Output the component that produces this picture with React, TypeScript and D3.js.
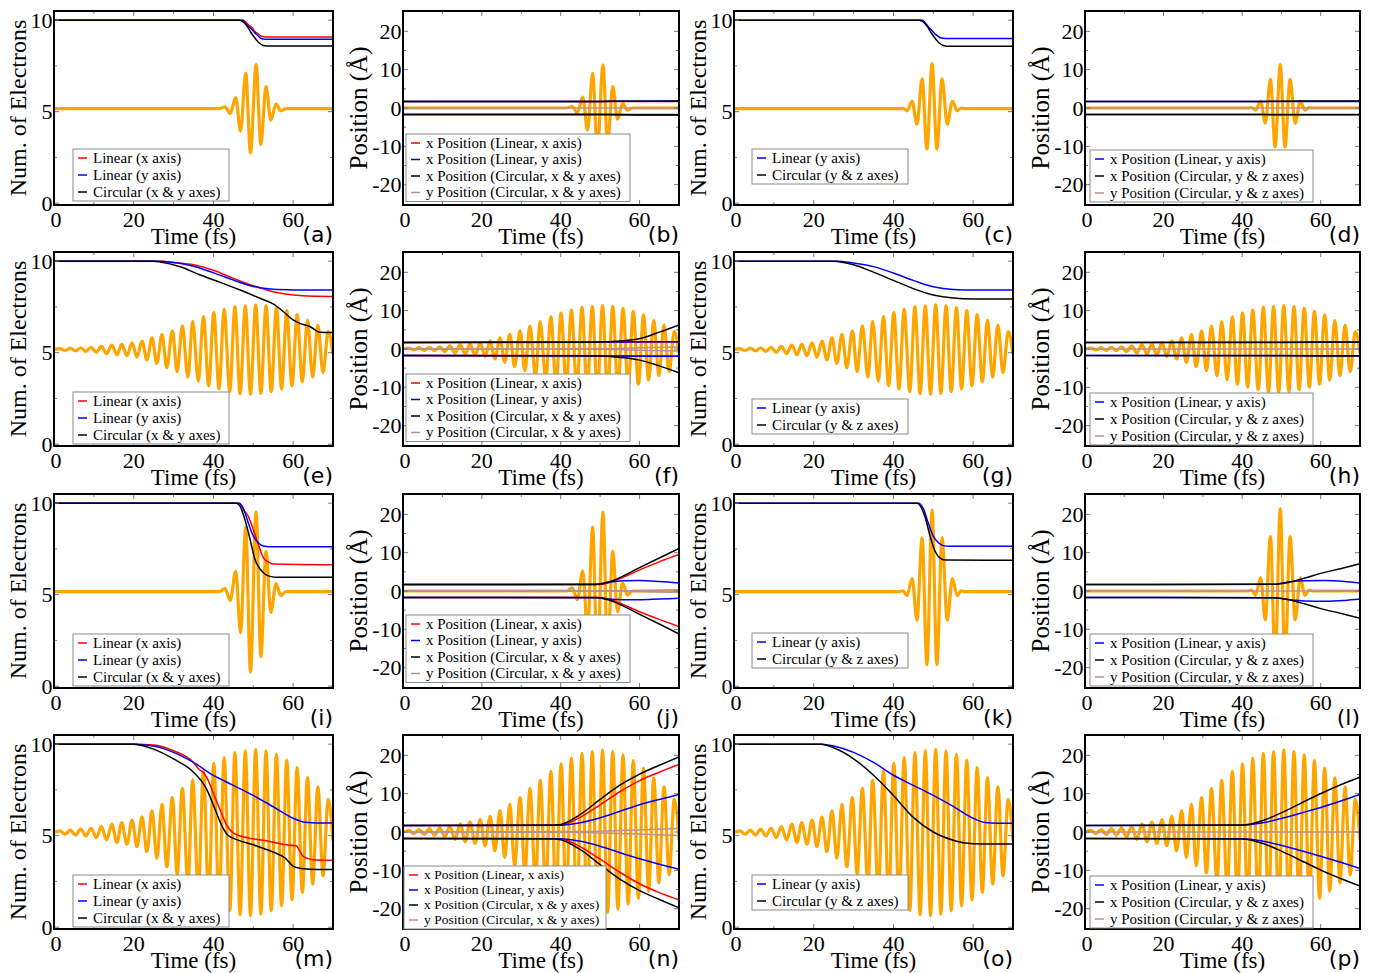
import React from 'react';
import * as d3 from 'd3';

type Pt = [number, number];

// axis ticks
const timeTicks = [0, 20, 40, 60];
const electronTicks = [0, 5, 10];
const positionTicks = [-20, -10, 0, 10, 20];

// laser field (extrema, normalised to peak 1)
const pulseShortA: Pt[] = [[0, 0], [41.5, 0], [42.9, 0.04], [44.2, -0.11], [45.6, 0.25], [46.8, -0.51], [48.1, 0.8], [49.3, -1.0], [50.7, 0.99], [51.9, -0.81], [53.2, 0.5], [54.4, -0.26], [55.7, 0.1], [56.9, -0.05], [58.2, 0], [70, 0]];
const pulseShortB: Pt[] = [[0, 0], [41.5, 0], [42.4, 0.01], [43.4, -0.05], [44.7, 0.16], [45.9, -0.35], [47.2, 0.66], [48.4, -0.9], [49.7, 1.0], [50.9, -0.9], [52.2, 0.66], [53.5, -0.35], [54.8, 0.16], [56.0, -0.05], [57.0, 0.01], [58, 0], [70, 0]];
const pulseLong: Pt[] = [[0, 0], [1.5, 0.02], [2.8, -0.02], [4.1, 0.03], [5.4, -0.03], [6.7, 0.04], [8.0, -0.04], [9.3, 0.05], [10.6, -0.06], [11.9, 0.07], [13.2, -0.09], [14.5, 0.1], [15.8, -0.12], [17.0, 0.12], [18.3, -0.14], [19.6, 0.15], [20.8, -0.17], [22.1, 0.19], [23.3, -0.23], [24.6, 0.26], [25.8, -0.31], [27.1, 0.34], [28.3, -0.41], [29.7, 0.42], [30.9, -0.5], [32.2, 0.53], [33.6, -0.62], [34.8, 0.63], [36.2, -0.71], [37.5, 0.74], [38.8, -0.81], [40.1, 0.83], [41.4, -0.88], [42.7, 0.9], [44.1, -0.94], [45.4, 0.96], [46.7, -0.99], [48.0, 0.98], [49.3, -1.0], [50.6, 1.0], [51.9, -0.98], [53.2, 0.98], [54.5, -0.94], [55.8, 0.94], [57.1, -0.88], [58.4, 0.87], [59.7, -0.81], [61.0, 0.78], [62.3, -0.72], [63.6, 0.66], [64.9, -0.62], [66.2, 0.55], [67.5, -0.52], [68.8, 0.4], [70.0, -0.1]];

// number of electrons
const aRed: Pt[] = [[0, 10], [47.5, 10], [48.3, 9.85], [49, 9.7], [49.7, 9.6], [50.4, 9.38], [51.2, 9.25], [52, 9.12], [53, 9.08], [70, 9.08]];
const aBlue: Pt[] = [[0, 10], [47.3, 10], [48, 9.85], [48.8, 9.65], [49.6, 9.5], [50.4, 9.3], [51.2, 9.15], [52, 9.0], [53, 8.96], [70, 8.95]];
const aBlack: Pt[] = [[0, 10], [46.5, 10], [47.5, 9.9], [48.5, 9.65], [49.5, 9.3], [50.5, 9.0], [51.5, 8.75], [52.5, 8.62], [54, 8.59], [70, 8.59]];
const cBlue: Pt[] = [[0, 10], [47.3, 10], [48, 9.85], [48.8, 9.62], [49.6, 9.45], [50.4, 9.25], [51.2, 9.12], [52, 9.02], [53, 9.0], [70, 9.0]];
const cBlack: Pt[] = [[0, 10], [46.5, 10], [47.5, 9.9], [48.5, 9.65], [49.5, 9.3], [50.5, 9.0], [51.5, 8.75], [52.5, 8.62], [54, 8.57], [70, 8.57]];
const eRed: Pt[] = [[0, 10], [27, 10], [30, 9.93], [35, 9.8], [40, 9.5], [45, 9.06], [50, 8.66], [55, 8.33], [60, 8.15], [65, 8.08], [70, 8.07]];
const eBlue: Pt[] = [[0, 10], [26, 10], [30, 9.92], [35, 9.72], [40, 9.36], [45, 8.97], [50, 8.62], [55, 8.46], [60, 8.43], [70, 8.42]];
const eBlack: Pt[] = [[0, 10], [25, 10], [26.7, 9.96], [31.7, 9.69], [36.7, 9.24], [41.7, 8.84], [46.7, 8.42], [51.7, 7.97], [55, 7.66], [57.5, 7.25], [60, 6.79], [61.7, 6.6], [64.2, 6.43], [66.7, 6.12], [70, 6.1]];
const gBlue: Pt[] = [[0, 10], [26, 10], [30, 9.9], [35, 9.7], [40, 9.35], [45, 8.95], [50, 8.6], [55, 8.45], [60, 8.42], [70, 8.42]];
const gBlack: Pt[] = [[0, 10], [25, 10], [30, 9.8], [35, 9.4], [40, 8.95], [45, 8.5], [50, 8.15], [55, 7.98], [60, 7.93], [70, 7.93]];
const iRed: Pt[] = [[0, 10], [46.5, 10], [47.5, 9.64], [48.75, 9.28], [50, 8.56], [51.25, 7.75], [52.5, 7.03], [53.75, 6.79], [55, 6.67], [70, 6.63]];
const iBlue: Pt[] = [[0, 10], [46.3, 10], [47.5, 9.73], [48.75, 8.92], [50, 8.2], [51.25, 7.84], [52.5, 7.66], [54, 7.62], [70, 7.62]];
const iBlack: Pt[] = [[0, 10], [45.8, 10], [46.7, 9.82], [47.9, 9.1], [49.2, 8.02], [50.4, 6.94], [51.7, 6.4], [52.9, 6.13], [54.2, 6.0], [56, 5.95], [70, 5.95]];
const kBlue: Pt[] = [[0, 10], [46.3, 10], [47.5, 9.7], [48.75, 8.9], [50, 8.2], [51.25, 7.85], [52.5, 7.68], [54, 7.64], [70, 7.64]];
const kBlack: Pt[] = [[0, 10], [46, 10], [47, 9.75], [48, 9.2], [49.2, 8.2], [50.4, 7.4], [51.7, 7.0], [53, 6.9], [70, 6.88]];
const mRed: Pt[] = [[0, 10], [20, 10], [25, 9.96], [30, 9.64], [35, 9.0], [36.5, 8.6], [37.5, 8.45], [38.5, 8.1], [40, 7.3], [41.7, 6.4], [43.3, 5.59], [45, 5.14], [48.3, 4.9], [53.3, 4.72], [58.3, 4.5], [60.8, 4.45], [61.7, 4.14], [62.5, 3.87], [65, 3.69], [70, 3.66]];
const mBlue: Pt[] = [[0, 10], [20, 10], [25, 9.9], [30, 9.55], [35, 9.0], [40, 8.29], [45, 7.75], [50, 7.2], [55, 6.58], [60, 5.95], [63, 5.73], [66, 5.69], [70, 5.69]];
const mBlack: Pt[] = [[0, 10], [20, 10], [25, 9.73], [30, 9.19], [35, 8.47], [38, 7.66], [40, 6.67], [42, 5.59], [43.5, 5.05], [46, 4.77], [50, 4.5], [55, 4.1], [58, 3.78], [60, 3.33], [62, 3.2], [66, 3.15], [70, 3.15]];
const oBlue: Pt[] = [[0, 10], [22, 10], [25, 9.9], [30, 9.55], [35, 9.0], [40, 8.3], [45, 7.75], [50, 7.2], [55, 6.6], [60, 5.95], [63, 5.72], [66, 5.68], [70, 5.68]];
const oBlack: Pt[] = [[0, 10], [22, 10], [25, 9.8], [30, 9.2], [35, 8.3], [40, 7.2], [45, 6.0], [50, 5.2], [55, 4.75], [58, 4.6], [62, 4.55], [70, 4.55]];

// positions (upper and lower atom)
const zeroLine: Pt[] = [[0, 0], [70, 0]];
const bRedUp: Pt[] = [[0, 1.7], [70, 1.72]];
const bRedLo: Pt[] = [[0, -1.7], [70, -1.72]];
const bBlueUp: Pt[] = [[0, 1.7], [50, 1.72], [60, 1.78], [70, 1.8]];
const bBlueLo: Pt[] = [[0, -1.7], [50, -1.72], [60, -1.82], [70, -1.85]];
const bBlackUp: Pt[] = [[0, 1.7], [50, 1.72], [60, 1.76], [70, 1.76]];
const bBlackLo: Pt[] = [[0, -1.7], [50, -1.72], [60, -1.75], [70, -1.74]];
const dBlueUp: Pt[] = [[0, 1.7], [70, 1.7]];
const dBlueLo: Pt[] = [[0, -1.7], [70, -1.7]];
const dBlackUp: Pt[] = [[0, 1.7], [45, 1.72], [55, 1.8], [70, 1.8]];
const dBlackLo: Pt[] = [[0, -1.7], [45, -1.72], [55, -1.78], [70, -1.78]];
const fRedUp: Pt[] = [[0, 1.7], [50, 1.75], [70, 1.85]];
const fRedLo: Pt[] = [[0, -1.7], [50, -1.75], [70, -1.85]];
const fBlueUp: Pt[] = [[0, 1.7], [50, 1.8], [60, 1.9], [70, 1.92]];
const fBlueLo: Pt[] = [[0, -1.7], [50, -1.8], [60, -1.9], [70, -1.92]];
const fBlackUp: Pt[] = [[0, 1.7], [45, 1.75], [50, 1.85], [55, 2.1], [60, 2.7], [65, 4.4], [70, 6.3]];
const fBlackLo: Pt[] = [[0, -1.7], [45, -1.75], [50, -1.85], [55, -2.2], [60, -2.9], [65, -4.4], [70, -6.2]];
const fRosyUp: Pt[] = [[0, 0], [50, 0.05], [60, 0.3], [70, 0.5]];
const fRosyLo: Pt[] = [[0, 0], [50, -0.05], [60, -0.3], [70, -0.5]];
const hBlueUp: Pt[] = [[0, 1.7], [50, 1.72], [70, 1.75]];
const hBlueLo: Pt[] = [[0, -1.7], [50, -1.72], [70, -1.75]];
const hBlackUp: Pt[] = [[0, 1.7], [50, 1.75], [70, 1.85]];
const hBlackLo: Pt[] = [[0, -1.7], [50, -1.75], [70, -1.85]];
const jRedUp: Pt[] = [[0, 1.7], [50, 1.72], [52, 2.1], [55, 3.2], [60, 5.5], [65, 7.6], [70, 9.5]];
const jRedLo: Pt[] = [[0, -1.7], [50, -1.72], [52, -2.1], [55, -3.2], [60, -5.4], [65, -7.4], [70, -9.3]];
const jBlueUp: Pt[] = [[0, 1.7], [49, 1.75], [52, 2.3], [56, 2.7], [60, 2.75], [65, 2.5], [70, 2.1]];
const jBlueLo: Pt[] = [[0, -1.7], [49, -1.75], [52, -2.1], [56, -2.3], [60, -2.3], [65, -2.1], [70, -1.9]];
const jBlackUp: Pt[] = [[0, 1.7], [49, 1.72], [51, 2.0], [53, 2.6], [55, 3.5], [60, 6.1], [65, 8.6], [70, 11.1]];
const jBlackLo: Pt[] = [[0, -1.7], [49, -1.72], [51, -2.0], [53, -2.6], [55, -3.5], [60, -6.1], [65, -8.6], [70, -11.2]];
const jRosyUp: Pt[] = [[0, 0], [55, 0.05], [70, 0.35]];
const jRosyLo: Pt[] = [[0, 0], [55, -0.05], [70, -0.35]];
const lBlueUp: Pt[] = [[0, 1.7], [48, 1.75], [52, 2.4], [56, 2.7], [61, 2.75], [66, 2.5], [70, 2.1]];
const lBlueLo: Pt[] = [[0, -1.7], [48, -1.75], [52, -2.3], [56, -2.6], [61, -2.65], [66, -2.45], [70, -2.1]];
const lBlackUp: Pt[] = [[0, 1.7], [48, 1.75], [52, 2.3], [56, 3.4], [60, 4.6], [65, 5.8], [70, 7.1]];
const lBlackLo: Pt[] = [[0, -1.7], [48, -1.75], [52, -2.3], [56, -3.4], [60, -4.6], [65, -5.8], [70, -7.1]];
const nRedUp: Pt[] = [[0, 1.7], [40, 1.8], [45, 3.9], [50, 7.1], [55, 10.5], [60, 13.4], [65, 15.6], [70, 17.6]];
const nRedLo: Pt[] = [[0, -1.7], [40, -1.8], [45, -3.9], [50, -7.1], [55, -10.5], [60, -13.5], [65, -15.8], [70, -17.7]];
const nBlueUp: Pt[] = [[0, 1.7], [40, 1.75], [45, 2.4], [50, 3.7], [55, 5.4], [60, 7.1], [65, 8.5], [70, 9.8]];
const nBlueLo: Pt[] = [[0, -1.7], [40, -1.75], [45, -2.4], [50, -3.7], [55, -5.4], [60, -7.0], [65, -8.4], [70, -9.7]];
const nBlackUp: Pt[] = [[0, 1.7], [38, 1.75], [40, 1.96], [45, 4.6], [50, 8.5], [55, 12.2], [60, 15.1], [65, 17.4], [70, 19.6]];
const nBlackLo: Pt[] = [[0, -1.7], [38, -1.75], [40, -2.0], [45, -4.6], [50, -8.5], [55, -12.3], [60, -15.3], [65, -17.6], [70, -19.8]];
const nRosyUp: Pt[] = [[0, 0], [45, 0.1], [55, 0.4], [70, 0.9]];
const nRosyLo: Pt[] = [[0, 0], [45, -0.1], [55, -0.4], [70, -0.9]];
const pBlueUp: Pt[] = [[0, 1.7], [40, 1.75], [45.3, 2.4], [50.4, 3.66], [55.5, 5.1], [60.6, 6.6], [65.7, 8.3], [70, 9.8]];
const pBlueLo: Pt[] = [[0, -1.7], [40, -1.75], [45.3, -2.4], [50.4, -3.6], [55.5, -5.0], [60.6, -6.5], [65.7, -8.1], [70, -9.5]];
const pBlackUp: Pt[] = [[0, 1.7], [40, 1.8], [45.3, 3.0], [50.4, 5.2], [55.5, 7.8], [60.6, 10.3], [65.7, 12.6], [70, 14.3]];
const pBlackLo: Pt[] = [[0, -1.7], [40, -1.8], [45.3, -3.0], [50.4, -5.2], [55.5, -7.7], [60.6, -10.2], [65.7, -12.4], [70, -14.1]];

const RED = '#ff0000';
const BLUE = '#0000ff';
const BLACK = '#000000';
const ROSY = '#bc8f8f';
const ORANGE = '#ffa500';

const legendCol0 = [
  { label: 'Linear (x axis)', color: RED },
  { label: 'Linear (y axis)', color: BLUE },
  { label: 'Circular (x & y axes)', color: BLACK },
];
const legendCol1 = [
  { label: 'x Position (Linear, x axis)', color: RED },
  { label: 'x Position (Linear, y axis)', color: BLUE },
  { label: 'x Position (Circular, x & y axes)', color: BLACK },
  { label: 'y Position (Circular, x & y axes)', color: ROSY },
];
const legendCol2 = [
  { label: 'Linear (y axis)', color: BLUE },
  { label: 'Circular (y & z axes)', color: BLACK },
];
const legendCol3 = [
  { label: 'x Position (Linear, y axis)', color: BLUE },
  { label: 'x Position (Circular, y & z axes)', color: BLACK },
  { label: 'y Position (Circular, y & z axes)', color: ROSY },
];

const COLS = [{ x: 54, w: 279 }, { x: 403, w: 276 }, { x: 734, w: 279 }, { x: 1085, w: 275 }];
const ROWS = [11, 252, 494, 735];
const PH = 194;
const LEG = [
  { dx: 19, w: 156, gap: 17, font: 15, entries: legendCol0 },
  { dx: 3, w: 224, gap: 16.5, font: 15, entries: legendCol1 },
  { dx: 18, w: 156, gap: 17, font: 15, entries: legendCol2 },
  { dx: 5, w: 223, gap: 17, font: 15, entries: legendCol3 },
];

type Series = { color: string; data: Pt[] };
type PanelDef = {
  id: string; row: number; col: number; pulse: Pt[]; base: number; scale: number;
  series: Series[]; legendY: number; legend?: { dx: number; w: number; gap: number; font: number };
};

const el = (s: [string, Pt[]][]) => s.map(([color, data]) => ({ color, data }));

const panels: PanelDef[] = [
  { id: 'a', row: 0, col: 0, pulse: pulseShortA, base: 5.17, scale: 2.42, legendY: 158, series: el([[RED, aRed], [BLUE, aBlue], [BLACK, aBlack]]) },
  { id: 'b', row: 0, col: 1, pulse: pulseShortA, base: 0, scale: 11.3, legendY: 143, series: el([[ROSY, zeroLine], [RED, bRedUp], [RED, bRedLo], [BLUE, bBlueUp], [BLUE, bBlueLo], [BLACK, bBlackUp], [BLACK, bBlackLo]]) },
  { id: 'c', row: 0, col: 2, pulse: pulseShortB, base: 5.17, scale: 2.45, legendY: 158, series: el([[BLUE, cBlue], [BLACK, cBlack]]) },
  { id: 'd', row: 0, col: 3, pulse: pulseShortB, base: 0, scale: 11.3, legendY: 159, series: el([[ROSY, zeroLine], [BLUE, dBlueUp], [BLUE, dBlueLo], [BLACK, dBlackUp], [BLACK, dBlackLo]]) },
  { id: 'e', row: 1, col: 0, pulse: pulseLong, base: 5.17, scale: 2.44, legendY: 401, series: el([[RED, eRed], [BLUE, eBlue], [BLACK, eBlack]]) },
  { id: 'f', row: 1, col: 1, pulse: pulseLong, base: 0, scale: 11.3, legendY: 383, series: el([[ROSY, fRosyUp], [ROSY, fRosyLo], [RED, fRedUp], [RED, fRedLo], [BLUE, fBlueUp], [BLUE, fBlueLo], [BLACK, fBlackUp], [BLACK, fBlackLo]]) },
  { id: 'g', row: 1, col: 2, pulse: pulseLong, base: 5.17, scale: 2.44, legendY: 408, series: el([[BLUE, gBlue], [BLACK, gBlack]]) },
  { id: 'h', row: 1, col: 3, pulse: pulseLong, base: 0, scale: 11.3, legendY: 402, series: el([[ROSY, zeroLine], [BLUE, hBlueUp], [BLUE, hBlueLo], [BLACK, hBlackUp], [BLACK, hBlackLo]]) },
  { id: 'i', row: 2, col: 0, pulse: pulseShortA, base: 5.17, scale: 4.4, legendY: 643, series: el([[RED, iRed], [BLUE, iBlue], [BLACK, iBlack]]) },
  { id: 'j', row: 2, col: 1, pulse: pulseShortA, base: 0, scale: 20.8, legendY: 624, series: el([[ROSY, jRosyUp], [ROSY, jRosyLo], [RED, jRedUp], [RED, jRedLo], [BLUE, jBlueUp], [BLUE, jBlueLo], [BLACK, jBlackUp], [BLACK, jBlackLo]]) },
  { id: 'k', row: 2, col: 2, pulse: pulseShortB, base: 5.17, scale: 4.45, legendY: 642, series: el([[BLUE, kBlue], [BLACK, kBlack]]) },
  { id: 'l', row: 2, col: 3, pulse: pulseShortB, base: 0, scale: 21.5, legendY: 643, series: el([[ROSY, zeroLine], [BLUE, lBlueUp], [BLUE, lBlueLo], [BLACK, lBlackUp], [BLACK, lBlackLo]]) },
  { id: 'm', row: 3, col: 0, pulse: pulseLong, base: 5.17, scale: 4.55, legendY: 884, series: el([[RED, mRed], [BLUE, mBlue], [BLACK, mBlack]]) },
  { id: 'n', row: 3, col: 1, pulse: pulseLong, base: 0, scale: 21.4, legendY: 875, legend: { dx: 1, w: 202, gap: 15, font: 13.5 }, series: el([[ROSY, nRosyUp], [ROSY, nRosyLo], [RED, nRedUp], [RED, nRedLo], [BLUE, nBlueUp], [BLUE, nBlueLo], [BLACK, nBlackUp], [BLACK, nBlackLo]]) },
  { id: 'o', row: 3, col: 2, pulse: pulseLong, base: 5.17, scale: 4.55, legendY: 884, series: el([[BLUE, oBlue], [BLACK, oBlack]]) },
  { id: 'p', row: 3, col: 3, pulse: pulseLong, base: 0, scale: 21.4, legendY: 885, series: el([[ROSY, zeroLine], [BLUE, pBlueUp], [BLUE, pBlueLo], [BLACK, pBlackUp], [BLACK, pBlackLo]]) },
];

const SERIF = '"Liberation Serif", "Times New Roman", serif';
const SANS = '"DejaVu Sans", sans-serif';

function Panel({ p }: { p: PanelDef }) {
  const { x: left, w } = COLS[p.col];
  const top = ROWS[p.row];
  const bottom = top + PH;
  const isPos = p.col % 2 === 1;
  const x = d3.scaleLinear().domain([0, 70]).range([left, left + w]);
  const y = isPos
    ? d3.scaleLinear().domain([-25.3, 25.3]).range([bottom, top])
    : d3.scaleLinear().domain([-0.1, 10.5]).range([bottom, top]);
  const line = d3.line<Pt>().x(d => x(d[0])).y(d => y(d[1])).curve(d3.curveMonotoneX);
  const pulse = p.pulse.map(([t, v]) => [t, p.base + p.scale * v] as Pt);
  const yTicks = isPos ? positionTicks : electronTicks;
  const yMinor = isPos ? [-15, -5, 5, 15] : [2.5, 7.5];
  const xMinor = [10, 30, 50, 70];
  const leg = { ...LEG[p.col], ...(p.legend || {}) };
  const entries = LEG[p.col].entries;
  const boxX = left + leg.dx;
  const boxY = p.legendY - 9;
  const boxH = leg.gap * (entries.length - 1) + 18;
  const clipId = `clip-${p.id}`;
  const tickCol = '#777';

  const rosy = p.series.filter(s => s.color === ROSY);
  const others = p.series.filter(s => s.color !== ROSY);

  return (
    <g>
      <clipPath id={clipId}>
        <rect x={left} y={top} width={w} height={PH} />
      </clipPath>
      <g clipPath={`url(#${clipId})`} fill="none">
        <path d={line(pulse) || ''} stroke={ORANGE} strokeWidth={3.2} />
        {rosy.map((s, i) => (
          <path key={'r' + i} d={line(s.data) || ''} stroke={s.color} strokeWidth={1.5} />
        ))}
        {others.map((s, i) => (
          <path key={'s' + i} d={line(s.data) || ''} stroke={s.color} strokeWidth={1.5} />
        ))}
      </g>
      {/* ticks, pointing inward on all sides */}
      <g stroke={tickCol} strokeWidth={1}>
        {timeTicks.map(t => (
          <g key={'xt' + t}>
            <line x1={x(t)} x2={x(t)} y1={bottom} y2={bottom - 5} />
            <line x1={x(t)} x2={x(t)} y1={top} y2={top + 5} />
          </g>
        ))}
        {xMinor.map(t => (
          <g key={'xm' + t}>
            <line x1={x(t)} x2={x(t)} y1={bottom} y2={bottom - 3} />
            <line x1={x(t)} x2={x(t)} y1={top} y2={top + 3} />
          </g>
        ))}
        {yTicks.map(v => (
          <g key={'yt' + v}>
            <line x1={left} x2={left + 5} y1={y(v)} y2={y(v)} />
            <line x1={left + w} x2={left + w - 5} y1={y(v)} y2={y(v)} />
          </g>
        ))}
        {yMinor.map(v => (
          <g key={'ym' + v}>
            <line x1={left} x2={left + 3} y1={y(v)} y2={y(v)} />
            <line x1={left + w} x2={left + w - 3} y1={y(v)} y2={y(v)} />
          </g>
        ))}
      </g>
      <rect x={left} y={top} width={w} height={PH} fill="none" stroke="#000" strokeWidth={2} />
      {/* legend */}
      <rect x={boxX} y={boxY} width={leg.w} height={boxH} fill="#fff" stroke="#8a8a8a" strokeWidth={1} />
      {entries.map((e, i) => {
        const cy = p.legendY + i * leg.gap;
        return (
          <g key={e.label}>
            <line x1={boxX + 5} x2={boxX + 14} y1={cy} y2={cy} stroke={e.color} strokeWidth={1.5} />
            <text x={boxX + 20} y={cy} dy="0.33em" fontFamily={SERIF} fontSize={leg.font} fill="#000">{e.label}</text>
          </g>
        );
      })}
      {/* tick labels */}
      {timeTicks.map(t => (
        <text key={'xl' + t} x={x(t) + (t === 0 ? 2 : 0)} y={bottom + 22} textAnchor="middle" fontFamily={SERIF} fontSize={22}>{t}</text>
      ))}
      {yTicks.map(v => (
        <text key={'yl' + v} x={left - 1.5} y={y(v)} dy="0.35em" textAnchor="end" fontFamily={SERIF} fontSize={22}>{v}</text>
      ))}
      <text x={left + w / 2} y={bottom + 39} textAnchor="middle" fontFamily={SERIF} fontSize={23}>Time (fs)</text>
      <text
        transform={`translate(${left - (isPos ? 45 : 36)},${(top + bottom) / 2}) rotate(-90)`}
        dy="0.35em" textAnchor="middle" fontFamily={SERIF} fontSize={isPos ? 25 : 24}
      >
        {isPos ? 'Position (Å)' : 'Num. of Electrons'}
      </text>
      <text x={left + w} y={bottom + 37} textAnchor="end" fontFamily={SANS} fontSize={22}>({p.id})</text>
    </g>
  );
}

export default function App() {
  return (
    <svg width={1375} height={973} style={{ position: 'absolute', left: 0, top: 0, background: '#fff' }}>
      <rect width={1375} height={973} fill="#fff" />
      {panels.map(p => <Panel key={p.id} p={p} />)}
    </svg>
  );
}
